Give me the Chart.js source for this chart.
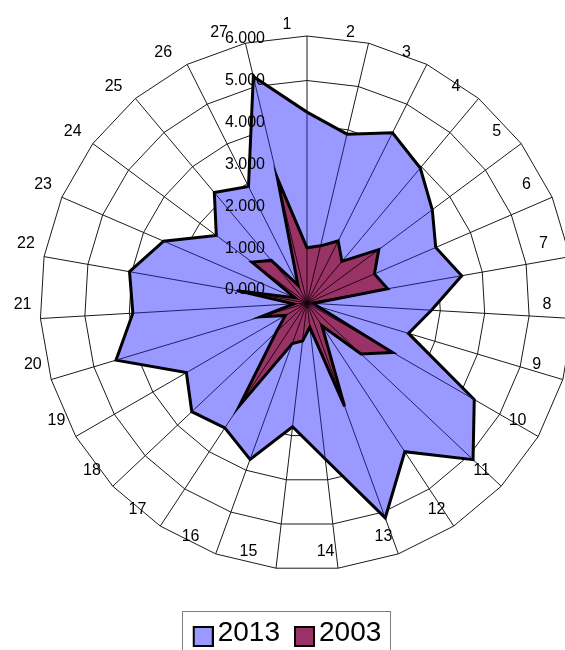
<!DOCTYPE html>
<html>
<head>
<meta charset="utf-8">
<title>2013 / 2003</title>
<script src="https://cdn.jsdelivr.net/npm/chart.js@4/dist/chart.umd.min.js"></script>
<style>
  html, body { margin: 0; padding: 0; background: #fff; overflow: hidden; width: 565px; height: 650px; }
  canvas { display: block; }
</style>
</head>
<body>
<canvas id="radar" width="565" height="657"></canvas>
<script>
// Categories around the radar, clockwise from the top
const categories = ['1', '2', '3', '4', '5', '6', '7', '8', '9', '10', '11', '12', '13', '14',
  '15', '16', '17', '18', '19', '20', '21', '22', '23', '24', '25', '26', '27'];

// Series values (same unit as the value axis)
const series2013 = [4.29, 3.90, 4.28, 3.96, 3.51, 3.15, 3.53, 2.80, 2.38, 4.34, 5.13, 4.00, 5.14, 3.53,
  2.80, 3.74, 3.36, 3.56, 3.13, 4.48, 3.92, 4.05, 3.51, 2.54, 3.24, 2.93, 5.23];
const series2003 = [1.24, 1.32, 1.56, 1.22, 2.01, 1.65, 1.84, 0.15, 0.25, 2.22, 1.67, 0.61, 2.47, 0.55,
  0.86, 0.97, 2.76, 0.95, 0.56, 1.08, 0.30, 1.60, 0.30, 1.54, 1.25, 0.45, 2.88];

// Value axis labels, one per ring starting at the centre
const tickLabels = ['0.000', '1.000', '2.000', '3.000', '4.000', '5.000', '6.000'];

const FONT = "'Liberation Sans', Arial, Helvetica, sans-serif";
const fills = ['#9999FF', '#993366'];

// Placement of the radar on the canvas
const frame = { cx: 307, cy: 303, radius: 267 };

// Legend swatch: outlined square sitting close to its text
function legendSwatch(fill) {
  const c = document.createElement('canvas');
  c.width = 40;
  c.height = 40;
  const g = c.getContext('2d');
  g.fillStyle = fill;
  g.strokeStyle = '#000';
  g.lineWidth = 2;
  g.fillRect(20, 14, 19, 19);
  g.strokeRect(20, 14, 19, 19);
  return c;
}
const swatches = fills.map(legendSwatch);

// Lines from the centre to every vertex of a filled series
const fanLines = {
  id: 'fanLines',
  afterDatasetDraw(chart, args, opts) {
    const s = chart.scales.r;
    const ctx = chart.ctx;
    ctx.save();
    ctx.strokeStyle = opts.colors[args.index];
    ctx.lineWidth = 1;
    ctx.beginPath();
    args.meta.data.forEach(pt => {
      ctx.moveTo(s.xCenter, s.yCenter);
      ctx.lineTo(pt.x, pt.y);
    });
    ctx.stroke();
    ctx.restore();
  }
};

// Value labels beside the vertical axis and category labels round the rim
const axisText = {
  id: 'axisText',
  afterDatasetsDraw(chart) {
    const s = chart.scales.r;
    const ctx = chart.ctx;
    ctx.save();
    ctx.font = '16px ' + FONT;
    ctx.fillStyle = '#000';
    ctx.textAlign = 'right';
    ctx.textBaseline = 'middle';
    tickLabels.forEach((t, v) => {
      const d = s.getDistanceFromCenterForValue(v);
      ctx.fillText(t, s.xCenter - 42, s.yCenter - 13 - d * 0.94);
    });
    const n = categories.length;
    categories.forEach((c, i) => {
      const p = s.getPointPosition(i, s.drawingArea - 11);
      const a = i * 2 * Math.PI / n;
      const sn = Math.sin(a), cs = Math.cos(a);
      ctx.textAlign = sn > 0.05 ? 'left' : (sn < -0.05 ? 'right' : 'center');
      ctx.fillText(c, p.x - 20, p.y - 14 - cs * 8);
    });
    ctx.restore();
  }
};

// Thin frame round the legend
const legendFrame = {
  id: 'legendFrame',
  afterDraw(chart) {
    const hb = chart.legend && chart.legend.legendHitBoxes;
    if (!hb || !hb.length) return;
    const first = hb[0], last = hb[hb.length - 1];
    const left = Math.round(first.left - 2) + 0.5;
    const top = Math.round(first.top - 8) + 0.5;
    const right = Math.round(last.left + last.width + 9) + 0.5;
    const ctx = chart.ctx;
    ctx.save();
    ctx.strokeStyle = '#808080';
    ctx.lineWidth = 1;
    ctx.strokeRect(left, top, right - left, 80);
    ctx.restore();
  }
};

new Chart(document.getElementById('radar'), {
  type: 'radar',
  data: {
    labels: categories,
    datasets: [
      {
        label: '2013',
        data: series2013,
        backgroundColor: fills[0],
        borderColor: '#000',
        borderWidth: 3,
        fill: true,
        pointRadius: 0,
        pointHoverRadius: 0,
        tension: 0,
        clip: false,
        order: 1
      },
      {
        label: '2003',
        data: series2003,
        backgroundColor: fills[1],
        borderColor: '#000',
        borderWidth: 3,
        fill: true,
        pointRadius: 0,
        pointHoverRadius: 0,
        tension: 0,
        clip: false,
        order: 0
      }
    ]
  },
  options: {
    responsive: false,
    devicePixelRatio: 1,
    animation: false,
    events: [],
    layout: { padding: 0 },
    scales: {
      r: {
        min: 0,
        max: 6,
        startAngle: 0,
        ticks: { display: false, stepSize: 1 },
        grid: { color: '#1a1a1a', lineWidth: 1, circular: false },
        angleLines: { color: '#1a1a1a', lineWidth: 1 },
        pointLabels: { display: false },
        afterFit(scale) {
          scale.xCenter = frame.cx;
          scale.yCenter = frame.cy;
          scale.drawingArea = frame.radius;
        }
      }
    },
    plugins: {
      tooltip: { enabled: false },
      fanLines: { colors: ['rgba(20, 20, 90, 0.9)', 'rgba(20, 0, 10, 0.9)'] },
      legend: {
        position: 'bottom',
        labels: {
          usePointStyle: true,
          boxWidth: 20,
          boxHeight: 20,
          padding: 5,
          color: '#000',
          font: { size: 28, family: FONT },
          sort: (a, b) => a.datasetIndex - b.datasetIndex,
          generateLabels(chart) {
            const items = Chart.defaults.plugins.legend.labels.generateLabels(chart);
            items.forEach(it => { it.pointStyle = swatches[it.datasetIndex]; });
            return items;
          }
        }
      }
    }
  },
  plugins: [fanLines, axisText, legendFrame]
});
</script>
</body>
</html>
